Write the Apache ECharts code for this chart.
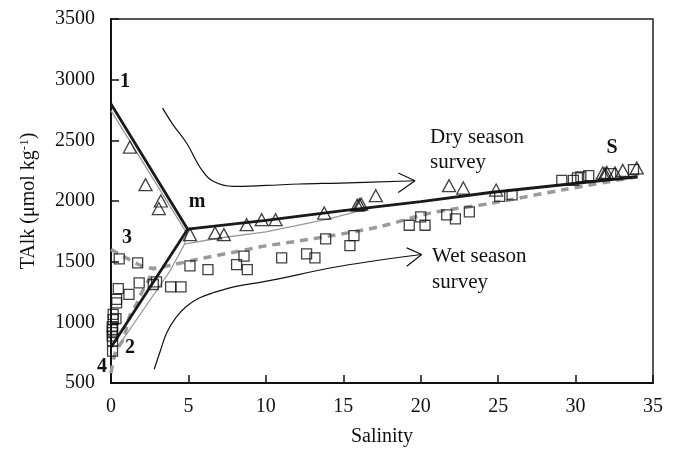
<!DOCTYPE html>
<html>
<head>
<meta charset="utf-8">
<script src="https://cdn.jsdelivr.net/npm/echarts@6/dist/echarts.min.js"></script>
<style>
html, body { margin: 0; padding: 0; background: #fff; }
#talkChart { width: 675px; height: 452px; }
</style>
</head>
<body>
<div id="talkChart"></div>
<script>
// salinity (x) vs TAlk (y)
var dryPoints = [[1.22,2445],[2.23,2134],[3.22,2000],[3.09,1938],[5.1,1723],[6.72,1737],[7.29,1723],
	[8.76,1805],[9.73,1846],[10.63,1846],[13.77,1901],[15.9,1965],[16.04,1970],[16.15,1975],[17.1,2044],
	[21.83,2126],[22.75,2107],[24.87,2090],[31.76,2231],[31.9,2225],[32.02,2235],[32.55,2231],
	[33.05,2252],[33.95,2272]];
var wetPoints = [[0.1,763],[0.1,845],[0.08,887],[0.1,915],[0.1,941],[0.08,964],[0.14,1023],[0.32,1030],
	[0.14,1065],[0.36,1161],[0.36,1189],[0.47,1277],[0.53,1523],[1.16,1230],[1.72,1490],[1.82,1326],
	[2.73,1312],[2.94,1334],[3.85,1293],[4.52,1293],[5.1,1465],[6.26,1435],[8.11,1476],[8.59,1545],
	[8.8,1435],[11.02,1531],[12.63,1564],[13.17,1531],[13.86,1688],[15.43,1633],[15.69,1715],
	[19.26,1800],[20.0,1869],[20.28,1800],[21.68,1886],[22.24,1852],[23.14,1910],[25.1,2038],
	[25.9,2050],[29.11,2170],[29.86,2170],[30.12,2190],[30.34,2198],[30.85,2209],[32.27,2225],
	[33.74,2258]];

// mixing lines
var dryMixUpper = [[0,2800],[4.95,1768],[10,1840],[15,1920],[20,1995],[24.5,2070],[34,2200]];
var dryMixLower = [[0,795],[4.95,1768]];
var grayUpper = [[0,2745],[4.88,1737],[4.75,1645]];
var grayRight = [[4.75,1645],[7,1695],[10,1745],[14,1850],[17,1950],[20,1995],[24.5,2070],[34,2200]];
var grayLower = [[4.75,1645],[3.8,1421],[0.45,800]];
var wetMixUpper = [[0,1600],[1,1530],[2,1465],[2.7,1445],[4,1475],[6,1530],[8,1580],[10,1630],
	[12,1668],[14.3,1715],[17.4,1790],[20.6,1900],[24.5,1980],[29.2,2093],[34,2200]];
var wetMixLower = [[0,580],[0.3,760],[0.8,860],[1.2,1050],[1.65,1150],[2,1250],[2.4,1340],[2.7,1440]];

// arrows
var dryArrow = [[3.33,2765],[4,2630],[4.88,2478],[5.85,2258],[6.6,2162],[7.9,2120],[10,2128],
	[12.2,2140],[14.8,2148],[19.63,2167]];
var dryArrowHead = [[18.55,2231],[19.63,2167],[18.55,2071]];
var wetArrow = [[2.79,613],[3.2,770],[3.6,915],[4.2,1040],[4.88,1133],[5.7,1200],[6.6,1244],
	[8,1295],[10.05,1339],[14.8,1462],[20.06,1559]];
var wetArrowHead = [[19.1,1614],[20.06,1559],[19.1,1462]];

var serif = 'Liberation Serif';

function lineSeries(data, color, width, type, smooth) {
	return {
		type : 'line',
		data : data,
		symbol : 'none',
		smooth : smooth || false,
		silent : true,
		z : 2,
		lineStyle : { color : color, width : width, type : type || 'solid' }
	};
}

function note(text, x, y, bold, align) {
	return {
		type : 'text',
		x : x,
		y : y,
		style : {
			text : text,
			fill : '#111',
			font : (bold ? 'bold 20px ' : '21px ') + serif,
			textAlign : align || 'center',
			textVerticalAlign : 'middle'
		}
	};
}

var chart = echarts.init(document.getElementById('talkChart'), null, { renderer : 'canvas' });
chart.setOption({
	animation : false,
	backgroundColor : '#fff',
	grid : {
		left : 111, right : 22, top : 19, bottom : 68,
		show : true, borderColor : '#222', borderWidth : 1.5
	},
	xAxis : {
		type : 'value', min : 0, max : 35, interval : 5,
		name : 'Salinity', nameLocation : 'middle', nameGap : 44,
		nameTextStyle : { fontFamily : serif, fontSize : 20, color : '#111' },
		axisLine : { lineStyle : { color : '#111', width : 2 } },
		axisTick : { inside : true, length : 8, lineStyle : { color : '#111', width : 1.5 } },
		axisLabel : { fontFamily : serif, fontSize : 20, color : '#111', margin : 14 },
		splitLine : { show : false }
	},
	yAxis : {
		type : 'value', min : 500, max : 3500, interval : 500,
		name : 'TAlk (\u03bcmol kg{sup|-1})', nameLocation : 'middle', nameGap : 72,
		nameTextStyle : {
			fontFamily : serif, fontSize : 20, color : '#111',
			rich : { sup : { fontFamily : serif, fontSize : 13, color : '#111', verticalAlign : 'top', padding : [0, 0, 8, 0] } }
		},
		axisLine : { lineStyle : { color : '#111', width : 2 } },
		axisTick : { inside : true, length : 8, lineStyle : { color : '#111', width : 1.5 } },
		axisLabel : {
			fontFamily : serif, fontSize : 20, color : '#111', margin : 16,
			formatter : function(v) { return String(v); }
		},
		splitLine : { show : false }
	},
	series : [
		lineSeries(wetMixUpper, '#9a9a9a', 3.5, [8, 6], 0.3),
		lineSeries(wetMixLower, '#9a9a9a', 3.5, [8, 6], 0.3),
		lineSeries(grayUpper, '#999', 1.3),
		lineSeries(grayRight, '#999', 1.3),
		lineSeries(grayLower, '#999', 1.3),
		lineSeries(dryMixUpper, '#1a1a1a', 2.8),
		lineSeries(dryMixLower, '#1a1a1a', 2.8),
		lineSeries(dryArrow, '#111', 1.2, 'solid', 0.4),
		lineSeries(dryArrowHead, '#111', 1.2),
		lineSeries(wetArrow, '#111', 1.2, 'solid', 0.4),
		lineSeries(wetArrowHead, '#111', 1.2),
		{
			name : 'Dry season',
			type : 'scatter',
			data : dryPoints,
			symbol : 'triangle',
			symbolSize : [13, 12],
			z : 5,
			itemStyle : { color : 'rgba(0,0,0,0)', borderColor : '#111', borderWidth : 1.3 }
		},
		{
			name : 'Wet season',
			type : 'scatter',
			data : wetPoints,
			symbol : 'rect',
			symbolSize : 10,
			z : 5,
			itemStyle : { color : 'rgba(0,0,0,0)', borderColor : '#111', borderWidth : 1.3 }
		}
	],
	graphic : [
		note('1', 125, 82, true),
		note('m', 197, 202, true),
		note('3', 127, 238, true),
		note('2', 130, 348, true),
		note('4', 102, 367, true),
		note('S', 612, 148, true),
		note('Dry season', 430, 137, false, 'left'),
		note('survey', 430, 162, false, 'left'),
		note('Wet season', 432, 256, false, 'left'),
		note('survey', 432, 282, false, 'left')
	]
});
</script>
</body>
</html>
